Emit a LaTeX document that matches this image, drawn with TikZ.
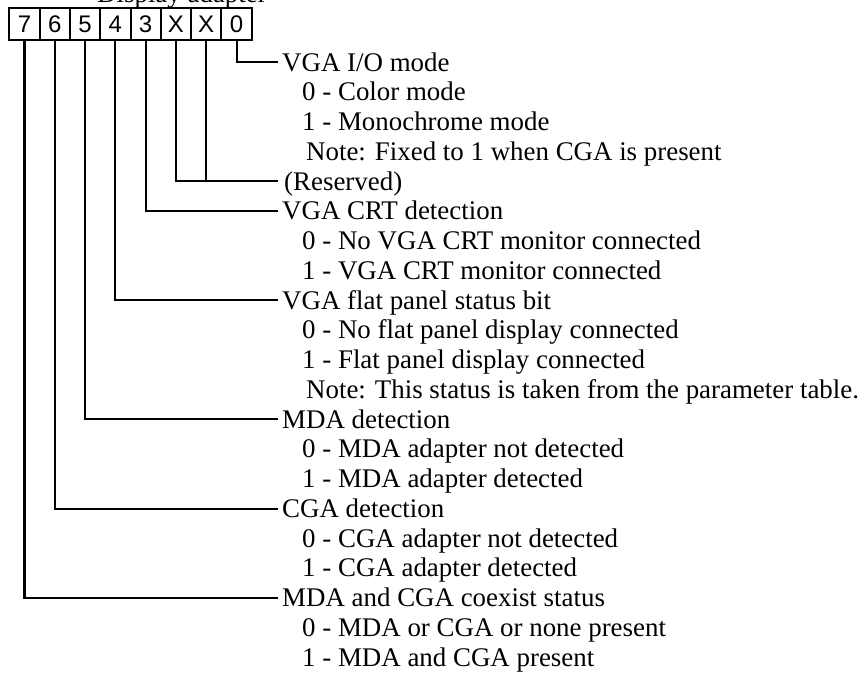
\documentclass[tikz,border=0pt]{standalone}
\usepackage{fontspec}
\setmainfont{Liberation Serif}
\newfontfamily\digitfont{Liberation Sans}
\begin{document}
\begin{tikzpicture}[x=1pt,y=-1pt,
  cell/.style={draw, line width=2pt, minimum width=30.3pt, minimum height=32pt, inner sep=0pt,
    font=\digitfont\fontsize{24}{28}\selectfont, anchor=north west},
  head/.style={anchor=west, inner sep=0pt, text height=17.5pt, text depth=0pt,
    font=\fontsize{26.9}{30}\selectfont},
  wire/.style={line width=2.1pt}]
\clip (0,0) rectangle (868,677);
\useasboundingbox (0,0) rectangle (868,677);
% title (cut off at the top, as in the reference)
\node[anchor=base west, inner sep=0pt, font=\fontsize{26.9}{30}\selectfont] (title) at (97,3) {Display adapter};
% bit cells
\node[cell] (c7) at (8.3,7.3) {7};
\node[cell] (c6) at (38.6,7.3) {6};
\node[cell] (c5) at (68.9,7.3) {5};
\node[cell] (c4) at (99.2,7.3) {4};
\node[cell] (c3) at (129.5,7.3) {3};
\node[cell] (c2) at (159.8,7.3) {X};
\node[cell] (c1) at (190.1,7.3) {X};
\node[cell] (c0) at (220.4,7.3) {0};
% descriptions
\node[head] (h0)  at (282,62.3)  {VGA I/O mode};
\node[head] (h0a) at (302,92.05) {0 - Color mode};
\node[head] (h0b) at (302,121.8) {1 - Monochrome mode};
\node[head] (h0n) at (306,151.55) {Note: Fixed to 1 when CGA is present};
\node[head] (hr)  at (284,181.3) {(Reserved)};
\node[head] (h3)  at (282,211.05) {VGA CRT detection};
\node[head] (h3a) at (302,240.8) {0 - No VGA CRT monitor connected};
\node[head] (h3b) at (302,270.55) {1 - VGA CRT monitor connected};
\node[head] (h4)  at (282,300.3) {VGA flat panel status bit};
\node[head] (h4a) at (302,330.05) {0 - No flat panel display connected};
\node[head] (h4b) at (302,359.8) {1 - Flat panel display connected};
\node[head] (h4n) at (306,389.55) {Note: This status is taken from the parameter table.};
\node[head] (h5)  at (282,419.3) {MDA detection};
\node[head] (h5a) at (302,449.05) {0 - MDA adapter not detected};
\node[head] (h5b) at (302,478.8) {1 - MDA adapter detected};
\node[head] (h6)  at (282,508.55) {CGA detection};
\node[head] (h6a) at (302,538.3) {0 - CGA adapter not detected};
\node[head] (h6b) at (302,568.05) {1 - CGA adapter detected};
\node[head] (h7)  at (282,597.8) {MDA and CGA coexist status};
\node[head] (h7a) at (302,627.55) {0 - MDA or CGA or none present};
\node[head] (h7b) at (302,657.3) {1 - MDA and CGA present};
% connectors
\draw[wire] (c0.south) |- ([xshift=-4.5pt]h0.west);
\draw[wire] (c2.south) |- ([xshift=-6.5pt]hr.west);
\draw[wire] (c1.south) -- (c1.south |- hr.west);
\draw[wire] (c3.south) |- ([xshift=-4.5pt]h3.west);
\draw[wire] (c4.south) |- ([xshift=-4.5pt]h4.west);
\draw[wire] (c5.south) |- ([xshift=-4.5pt]h5.west);
\draw[wire] (c6.south) |- ([xshift=-4.5pt]h6.west);
\draw[wire] (c7.south) |- ([xshift=-4.5pt]h7.west);
\end{tikzpicture}
\end{document}
